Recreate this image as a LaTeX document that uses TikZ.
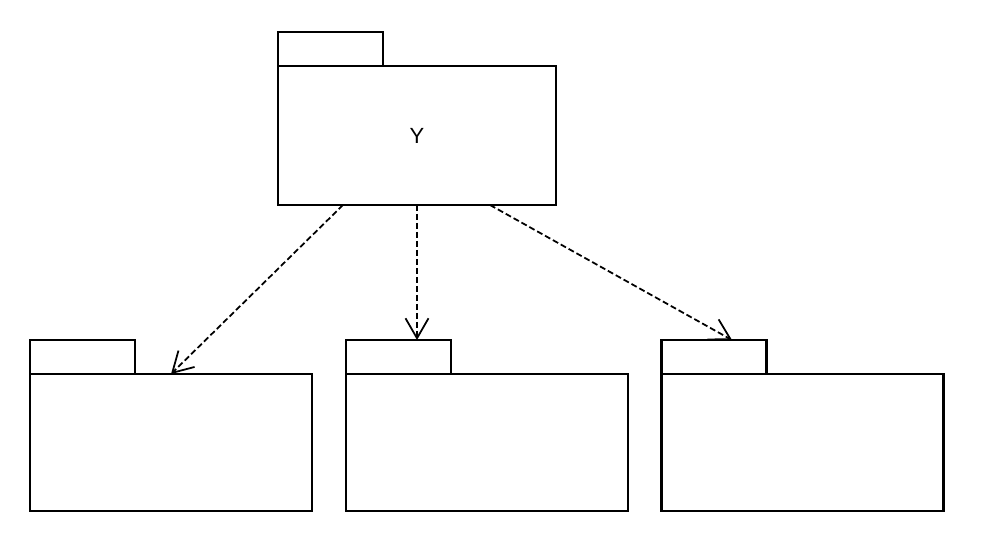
\documentclass[tikz,border=0pt]{standalone}
\usepackage{fontspec}
\setmainfont{Liberation Sans}
\usetikzlibrary{positioning,arrows.meta,calc}

\begin{document}
\begin{tikzpicture}[x=0.02cm,y=-0.02cm,
    body/.style={draw,line width=1.2pt,outer sep=0pt,minimum width=5.64cm,minimum height=2.74cm,inner sep=0pt},
    tab/.style={draw,line width=1.2pt,outer sep=0pt,minimum width=2.1cm,minimum height=0.68cm,inner sep=0pt},
    dep/.style={line width=1pt,dash pattern=on 1.2mm off 0.6mm,-{Straight Barb[length=4mm,width=4.6mm]}}]
    \useasboundingbox (0,0) rectangle (982,556);
    % package Y
    \node[body,minimum width=5.56cm,minimum height=2.78cm,font=\fontsize{12.5}{14}\selectfont] (y) at (417,135.5) {Y};
    \node[tab,above right=0 of y.north west] (ytab) {};
    % packages below
    \node[body] (pa) at (171,442.5) {};
    \node[tab,above right=0 of pa.north west] (patab) {};
    \node[body] (pb) at (487,442.5) {};
    \node[tab,above right=0 of pb.north west] (pbtab) {};
    \node[body] (pc) at (802.5,442.5) {};
    \node[tab,above right=0 of pc.north west] (pctab) {};
    % dependencies
    \draw[dep] ($(y.south)+(-74,0)$) -- (pa.north);
    \draw[dep] (y.south) -- (pbtab.north -| y.south);
    \draw[dep] ($(y.south)+(73,0)$) -- ($(pctab.north)+(18,0)$);
\end{tikzpicture}
\end{document}
